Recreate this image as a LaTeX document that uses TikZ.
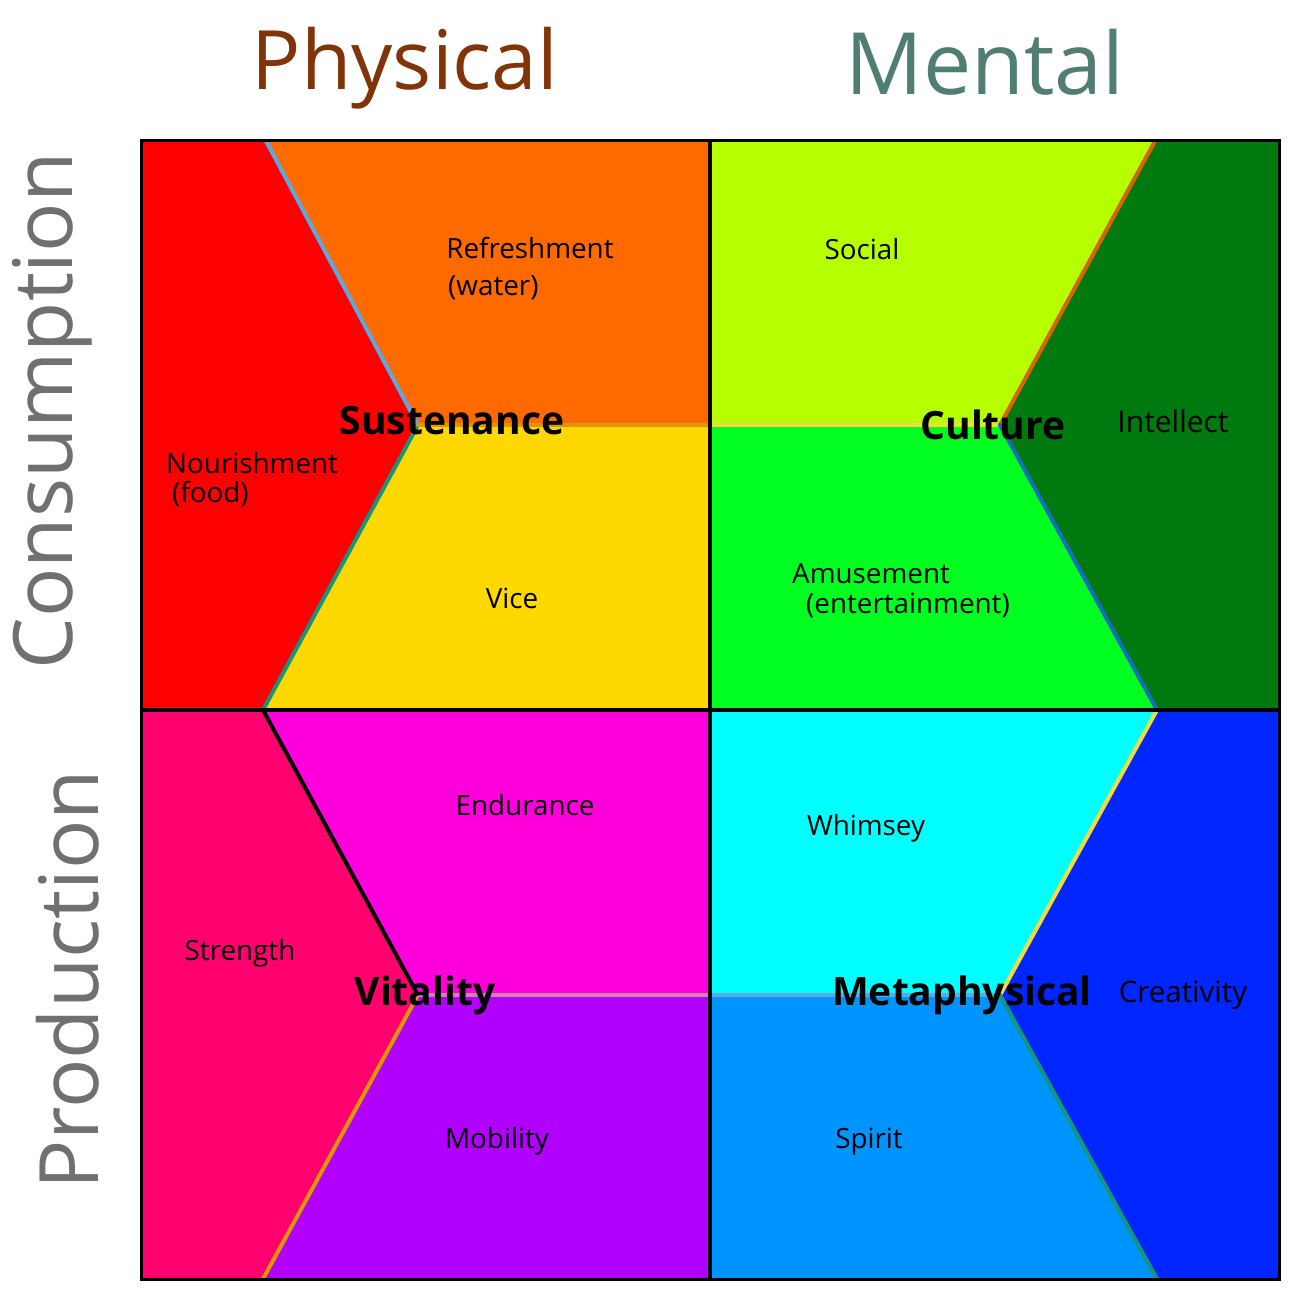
\documentclass[tikz,border=0pt]{standalone}
\usepackage{fontspec}
\setmainfont{Open Sans}
\begin{document}
\begin{tikzpicture}[x=1pt,y=-1pt,
  lab/.style={font=\fontsize{27.8}{30}\selectfont, text=black, inner sep=0pt},
  big/.style={font=\fontsize{39}{40}\selectfont\bfseries, text=black, inner sep=0pt},
  head/.style={font=\fontsize{82}{90}\selectfont, inner sep=0pt},
  seam/.style={line width=4pt, line cap=round}]
\definecolor{cRed}{RGB}{255,0,0}
\definecolor{cOrange}{RGB}{255,106,0}
\definecolor{cYellow}{RGB}{255,216,0}
\definecolor{cLime}{RGB}{182,255,0}
\definecolor{cGreen}{RGB}{0,255,33}
\definecolor{cDGreen}{RGB}{0,122,14}
\definecolor{cRose}{RGB}{255,0,110}
\definecolor{cMagenta}{RGB}{255,0,220}
\definecolor{cPurple}{RGB}{178,0,255}
\definecolor{cCyan}{RGB}{0,255,255}
\definecolor{cSky}{RGB}{0,148,255}
\definecolor{cBlue}{RGB}{0,38,255}
\definecolor{lBlue}{RGB}{90,170,225}
\definecolor{lTeal}{RGB}{20,150,120}
\definecolor{lGold}{RGB}{225,150,0}
\definecolor{lOrange}{RGB}{215,100,10}
\definecolor{lYellow}{RGB}{240,220,60}
\definecolor{lDBlue}{RGB}{20,110,190}
\definecolor{lPink}{RGB}{210,130,170}
\definecolor{lSky}{RGB}{90,170,230}
\definecolor{cPhys}{RGB}{128,52,8}
\definecolor{cMent}{RGB}{80,126,116}
\definecolor{cSide}{RGB}{112,112,112}
\useasboundingbox (0,0) rectangle (1300,1300);
\fill[white] (0,0) rectangle (1300,1300);
% top-left quadrant
\fill[cRed] (141,141) -- (266,141) -- (418,425) -- (263,710) -- (141,710) -- cycle;
\fill[cOrange] (266,141) -- (710,141) -- (710,425) -- (418,425) -- cycle;
\fill[cYellow] (418,425) -- (710,425) -- (710,710) -- (263,710) -- cycle;
% top-right quadrant
\fill[cLime] (710,141) -- (1155,141) -- (1000,425) -- (710,425) -- cycle;
\fill[cGreen] (710,425) -- (1000,425) -- (1157,710) -- (710,710) -- cycle;
\fill[cDGreen] (1155,141) -- (1279,141) -- (1279,710) -- (1157,710) -- (1000,425) -- cycle;
% bottom-left quadrant
\fill[cRose] (141,710) -- (263,710) -- (418,995) -- (263,1279) -- (141,1279) -- cycle;
\fill[cMagenta] (263,710) -- (710,710) -- (710,995) -- (418,995) -- cycle;
\fill[cPurple] (418,995) -- (710,995) -- (710,1279) -- (263,1279) -- cycle;
% bottom-right quadrant
\fill[cCyan] (710,710) -- (1157,710) -- (1000,995) -- (710,995) -- cycle;
\fill[cSky] (710,995) -- (1000,995) -- (1157,1279) -- (710,1279) -- cycle;
\fill[cBlue] (1157,710) -- (1279,710) -- (1279,1279) -- (1157,1279) -- (1000,995) -- cycle;
% seams
\draw[seam, lBlue] (266,141) -- (418,425);
\draw[seam, lTeal] (418,425) -- (263,710);
\draw[seam, lGold] (418,425) -- (710,425);
\draw[seam, lYellow] (710,425) -- (1000,425);
\draw[seam, lOrange] (1000,425) -- (1155,141);
\draw[seam, lDBlue] (1000,425) -- (1157,710);
\draw[seam, black] (263,710) -- (418,995);
\draw[seam, lGold] (418,995) -- (263,1279);
\draw[seam, lPink] (418,995) -- (710,995);
\draw[seam, lSky] (710,995) -- (1000,995);
\draw[seam, lYellow] (1157,710) -- (1000,995);
\draw[seam, lTeal] (1000,995) -- (1157,1279);
% frame
\draw[line width=4pt, black] (710,141) -- (710,1279);
\draw[line width=4pt, black] (141,710) -- (1279,710);
\draw[line width=3pt, black] (141,141) rectangle (1279,1279);
% headings
\node[head, text=cPhys] (phys) at (405,68) {Physical};
\node[head, text=cMent, font=\fontsize{86}{90}\selectfont] (ment) at (985,62) {Mental};
\node[head, text=cSide, rotate=90] (cons) at (52,411) {Consumption};
\node[head, text=cSide, rotate=90] (prod) at (68,980) {Production};
% labels
\node[lab] (refr) at (530,248) {Refreshment};
\node[lab, anchor=west] (water) at (448,288) {(water)};
\node[lab] (soc) at (862,249) {Social};
\node[big] (sust) at (452,421) {Sustenance};
\node[big] (cult) at (993,425) {Culture};
\node[lab, font=\fontsize{30}{32}\selectfont] (intel) at (1173,421) {Intellect};
\node[lab, anchor=west] (nour) at (166,463) {Nourishment};
\node[lab, anchor=west] (food) at (172,494) {(food)};
\node[lab] (vice) at (512,598) {Vice};
\node[lab, anchor=west] (amus) at (792,574) {Amusement};
\node[lab, anchor=west] (ent) at (806,605) {(entertainment)};
\node[lab] (endu) at (525,805) {Endurance};
\node[lab] (whim) at (866,828) {Whimsey};
\node[lab] (stren) at (240,953) {Strength};
\node[big] (vita) at (425,995) {Vitality};
\node[big] (meta) at (962,995) {Metaphysical};
\node[lab, font=\fontsize{29.5}{32}\selectfont] (crea) at (1183,995) {Creativity};
\node[lab] (mob) at (497,1141) {Mobility};
\node[lab] (spir) at (869,1142) {Spirit};
\end{tikzpicture}
\end{document}
